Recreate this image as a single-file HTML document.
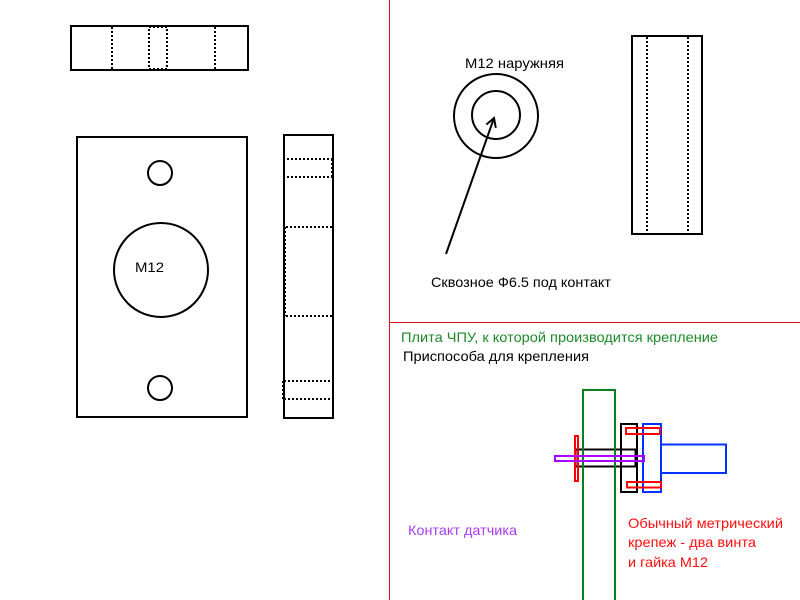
<!DOCTYPE html>
<html>
<head>
<meta charset="utf-8">
<style>
  html, body { margin: 0; padding: 0; background: #fff; }
  svg { display: block; }
  text { font-family: "Liberation Sans", "DejaVu Sans", sans-serif; font-size: 14px; }
</style>
</head>
<body>
<svg width="800" height="600" viewBox="0 0 800 600" xmlns="http://www.w3.org/2000/svg">
  <rect x="0" y="0" width="800" height="600" fill="#ffffff"/>

  <!-- dividers -->
  <line x1="389.5" y1="0" x2="389.5" y2="600" stroke="#e01010" stroke-width="1"/>
  <line x1="389" y1="322.5" x2="800" y2="322.5" stroke="#e01010" stroke-width="1"/>

  <!-- top view (left) -->
  <g fill="none" stroke="#000" stroke-width="2">
    <rect x="71" y="26" width="177" height="44"/>
  </g>
  <g fill="none" stroke="#000" stroke-width="2" stroke-dasharray="2 2">
    <line x1="112" y1="27" x2="112" y2="69"/>
    <line x1="215" y1="27" x2="215" y2="69"/>
    <rect x="149" y="27" width="18" height="42"/>
  </g>

  <!-- plate front view -->
  <g fill="none" stroke="#000" stroke-width="2">
    <rect x="77" y="137" width="170" height="280"/>
    <circle cx="160" cy="173" r="12"/>
    <circle cx="161" cy="270" r="47"/>
    <circle cx="160" cy="388" r="12"/>
  </g>
  <text x="135" y="272" textLength="29" lengthAdjust="spacingAndGlyphs">M12</text>

  <!-- side view -->
  <g fill="none" stroke="#000" stroke-width="2">
    <rect x="284" y="135" width="49" height="283"/>
  </g>
  <g fill="none" stroke="#000" stroke-width="2" stroke-dasharray="2 2">
    <line x1="287" y1="159" x2="333" y2="159"/>
    <line x1="287" y1="177" x2="333" y2="177"/>
    <line x1="332" y1="159" x2="332" y2="177"/>
    <line x1="286" y1="227" x2="333" y2="227"/>
    <line x1="286" y1="316" x2="333" y2="316"/>
    <line x1="285" y1="227" x2="285" y2="316"/>
    <line x1="284" y1="381" x2="333" y2="381"/>
    <line x1="284" y1="399" x2="333" y2="399"/>
    <line x1="283" y1="381" x2="283" y2="399"/>
  </g>

  <!-- top-right: washer circles -->
  <text x="465" y="68" textLength="99" lengthAdjust="spacingAndGlyphs">M12 наружняя</text>
  <g fill="none" stroke="#000" stroke-width="2">
    <circle cx="496" cy="116" r="42"/>
    <circle cx="496" cy="115" r="24"/>
    <line x1="446" y1="254" x2="494" y2="118"/>
    <polyline points="486.4,124.5 494,118 495.8,127.8"/>
  </g>
  <text x="431" y="287" textLength="180" lengthAdjust="spacingAndGlyphs">Сквозное Ф6.5 под контакт</text>

  <!-- top-right: tall rect -->
  <g fill="none" stroke="#000" stroke-width="2">
    <rect x="632" y="36" width="70" height="198"/>
  </g>
  <g fill="none" stroke="#000" stroke-width="2" stroke-dasharray="2 2">
    <line x1="647" y1="37" x2="647" y2="233"/>
    <line x1="688" y1="37" x2="688" y2="233"/>
  </g>

  <!-- bottom-right labels -->
  <text x="401" y="342" fill="#1e8a2a" textLength="317" lengthAdjust="spacingAndGlyphs">Плита ЧПУ, к которой производится крепление</text>
  <text x="403" y="361" fill="#000" textLength="186" lengthAdjust="spacingAndGlyphs">Приспособа для крепления</text>
  <text x="408" y="535" fill="#a83cf5" textLength="109" lengthAdjust="spacingAndGlyphs">Контакт датчика</text>
  <text x="628" y="528" fill="#ff1010" textLength="155" lengthAdjust="spacingAndGlyphs">Обычный метрический</text>
  <text x="628" y="547" fill="#ff1010" textLength="128" lengthAdjust="spacingAndGlyphs">крепеж - два винта</text>
  <text x="628" y="567" fill="#ff1010" textLength="80" lengthAdjust="spacingAndGlyphs">и гайка M12</text>

  <!-- bottom-right assembly -->
  <g fill="none" stroke-width="2">
    <rect x="575.5" y="449.5" width="60" height="17" stroke="#000"/>
    <path d="M583,600 V390 H615 V600" stroke="#0a7f1a"/>
    <rect x="621" y="424" width="16" height="68" stroke="#000"/>
    <rect x="643" y="424" width="18" height="68" stroke="#0033ff"/>
    <rect x="661" y="444.5" width="65" height="28.5" stroke="#0033ff"/>
    <rect x="575" y="436" width="3" height="45" stroke="#ff0000"/>
    <rect x="626" y="428" width="34" height="6" stroke="#ff0000"/>
    <rect x="627" y="482" width="34" height="5.5" stroke="#ff0000"/>
    <rect x="555" y="456" width="89" height="5" stroke="#aa00ff"/>
  </g>
</svg>
</body>
</html>
